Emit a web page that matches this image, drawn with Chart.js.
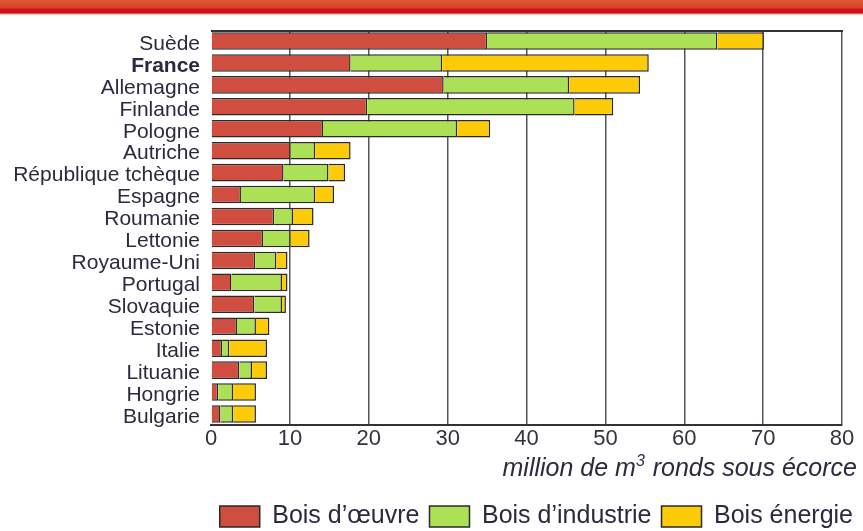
<!DOCTYPE html>
<html>
<head>
<meta charset="utf-8">
<title>Récolte de bois</title>
<script src="https://cdn.jsdelivr.net/npm/chart.js@4.4.1/dist/chart.umd.min.js"></script>
<style>
  html, body { margin: 0; padding: 0; background: #fff; overflow: hidden; }
  #wrap { position: relative; width: 863px; height: 539px; }
  #stripe {
    position: absolute; left: 0; top: 0; width: 863px; height: 15px;
    background: linear-gradient(to bottom, #dc5a30 0px, #d8402a 8px, #c8141a 9px, #c8141a 13px, #f0a070 14px, #ffffff 15px);
  }
  #graph { display: block; }
</style>
</head>
<body>
<div id="wrap">
  <div id="stripe"></div>
  <canvas id="graph" width="863" height="539"></canvas>
</div>
<script>
// Categories (top to bottom)
const countries = ['Suède', 'France', 'Allemagne', 'Finlande', 'Pologne', 'Autriche',
  'République tchèque', 'Espagne', 'Roumanie', 'Lettonie', 'Royaume-Uni', 'Portugal',
  'Slovaquie', 'Estonie', 'Italie', 'Lituanie', 'Hongrie', 'Bulgarie'];

// million m3
const boisOeuvre    = [35.0, 17.7, 29.5, 19.8, 14.2, 10.1, 9.2, 3.8, 8.0, 6.6, 5.6, 2.6, 5.5, 3.3, 1.4, 3.6, 0.9, 1.2];
const boisIndustrie = [29.2, 11.6, 15.9, 26.3, 17.0, 3.1, 5.7, 9.4, 2.4, 3.5, 2.7, 6.4, 3.5, 2.4, 0.9, 1.6, 1.9, 1.6];
const boisEnergie   = [5.9, 26.2, 9.0, 4.9, 4.2, 4.5, 2.1, 2.4, 2.6, 2.4, 1.4, 0.7, 0.5, 1.7, 4.8, 1.9, 2.9, 2.9];

const seriesNames = ["Bois d’œuvre", "Bois d’industrie", "Bois énergie"];
const xTicks = [0, 10, 20, 30, 40, 50, 60, 70, 80];
const axisTitle = ['million de m', '3', ' ronds sous écorce'];

const fontFamily = '"Liberation Sans", Arial, Helvetica, sans-serif';
const textColor = '#2a2a40';

// top frame line + axis title with superscript
const framePlugin = {
    id: 'frame',
    afterDatasetsDraw(chart) {
        const { ctx, chartArea } = chart;
        ctx.save();
        ctx.strokeStyle = '#333';
        ctx.lineWidth = 2;
        ctx.beginPath();
        ctx.moveTo(chartArea.left, chartArea.top + 1);
        ctx.lineTo(chartArea.right + 1, chartArea.top + 1);
        ctx.stroke();
        ctx.restore();
    },
    afterDraw(chart) {
        const ctx = chart.ctx;
        const mainFont = 'italic 25px ' + fontFamily;
        const supFont = 'italic 16px ' + fontFamily;
        const right = chart.width - 6;
        const baseline = 476;
        ctx.save();
        ctx.fillStyle = textColor;
        ctx.textBaseline = 'alphabetic';
        ctx.textAlign = 'left';
        ctx.font = mainFont;
        const wPost = ctx.measureText(axisTitle[2]).width;
        const wPre = ctx.measureText(axisTitle[0]).width;
        ctx.font = supFont;
        const wSup = ctx.measureText(axisTitle[1]).width;
        let x = right - wPost;
        ctx.font = mainFont;
        ctx.fillText(axisTitle[2], x, baseline);
        x -= wSup + 1;
        ctx.font = supFont;
        ctx.fillText(axisTitle[1], x, baseline - 10);
        x -= wPre;
        ctx.font = mainFont;
        ctx.fillText(axisTitle[0], x, baseline);
        ctx.restore();
    }
};

const ctx = document.getElementById('graph').getContext('2d');
new Chart(ctx, {
    type: 'bar',
    data: {
        labels: countries,
        datasets: [
            {
                label: seriesNames[0],
                data: boisOeuvre,
                backgroundColor: '#cf4e40',
                borderColor: '#2a2a2a',
                borderWidth: 1.5
            },
            {
                label: seriesNames[1],
                data: boisIndustrie,
                backgroundColor: '#ace055',
                borderColor: '#2a2a2a',
                borderWidth: 1.5
            },
            {
                label: seriesNames[2],
                data: boisEnergie,
                backgroundColor: '#fdcb08',
                borderColor: '#2a2a2a',
                borderWidth: 1.5
            }
        ]
    },
    options: {
        indexAxis: 'y',
        responsive: false,
        animation: false,
        categoryPercentage: 1,
        barPercentage: 0.8,
        layout: { padding: { top: 30, left: 0, right: 0, bottom: 0 } },
        plugins: {
            tooltip: { enabled: false },
            legend: {
                position: 'bottom',
                align: 'end',
                labels: {
                    boxWidth: 40,
                    boxHeight: 21,
                    padding: 10,
                    color: textColor,
                    font: { size: 25, family: fontFamily }
                }
            }
        },
        scales: {
            x: {
                stacked: true,
                min: 0,
                max: 80,
                afterBuildTicks: (scale) => {
                    scale.ticks = xTicks.map(v => ({ value: v }));
                },
                afterFit: (scale) => { scale.height = 69; },
                ticks: {
                    padding: 1,
                    color: '#333340',
                    font: { size: 22, family: fontFamily }
                },
                grid: {
                    drawTicks: false,
                    lineWidth: 1.5,
                    color: (c) => (c.tick && c.tick.value === 0) ? 'rgba(0,0,0,0)' : '#55555f'
                },
                border: { display: true, color: '#333', width: 2 }
            },
            y: {
                stacked: true,
                afterFit: (scale) => { scale.width = 211; },
                grid: { display: false, drawTicks: false },
                border: { display: false },
                ticks: {
                    autoSkip: false,
                    padding: 11,
                    labelOffset: 3,
                    color: textColor,
                    font: (c) => ({ size: 21, family: fontFamily, weight: c.index === 1 ? 'bold' : 'normal' })
                }
            },
            y2: {
                type: 'category',
                position: 'right',
                afterFit: (scale) => { scale.width = 21; },
                grid: { display: false, drawTicks: false },
                border: { display: false },
                ticks: { display: false }
            }
        }
    },
    plugins: [framePlugin]
});
</script>
</body>
</html>
